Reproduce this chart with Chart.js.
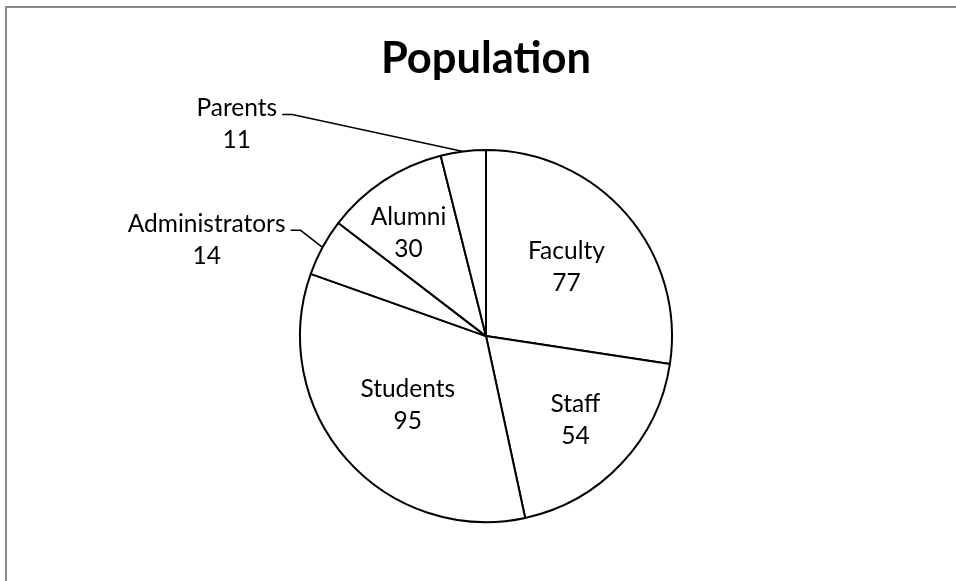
<!DOCTYPE html>
<html>
<head>
<meta charset="utf-8">
<title>Population</title>
<script src="https://cdn.jsdelivr.net/npm/chart.js@4"></script>
<style>
  html, body { margin: 0; padding: 0; background: #fff; }
  #wrap { width: 956px; height: 581px; position: relative; }
</style>
</head>
<body>
<div id="wrap"><canvas id="pop"></canvas></div>
<script>
const categories = ['Faculty', 'Staff', 'Students', 'Administrators', 'Alumni', 'Parents'];
const population = [77, 54, 95, 14, 30, 11];

// where each slice label sits: r = fraction of radius inside the slice
// (nx nudges it sideways), out = elbow of the leader line relative to the slice edge
const labelSpots = [
  { r: 0.57 },
  { r: 0.66 },
  { r: 0.56 },
  { out: [-22, -17] },
  { r: 0.66, nx: -10 },
  { out: [-171, -37] }
];

const FONT = 'Lato, "Noto Sans", sans-serif';

const frame = {
  id: 'frame',
  beforeDraw(chart) {
    const ctx = chart.ctx;
    ctx.save();
    ctx.strokeStyle = '#8a8a8a';
    ctx.lineWidth = 2;
    ctx.beginPath();
    ctx.moveTo(6, chart.height + 2);
    ctx.lineTo(6, 7);
    ctx.lineTo(chart.width + 2, 7);
    ctx.stroke();
    ctx.restore();
  }
};

const sliceLabels = {
  id: 'sliceLabels',
  afterDatasetsDraw(chart) {
    const ctx = chart.ctx;
    const meta = chart.getDatasetMeta(0);
    const values = chart.data.datasets[0].data;
    const lineGap = 32;
    ctx.save();
    ctx.font = '24.5px ' + FONT;
    ctx.fillStyle = '#000';
    ctx.textAlign = 'center';
    ctx.textBaseline = 'middle';
    meta.data.forEach((arc, i) => {
      const p = arc.getProps(['x', 'y', 'startAngle', 'endAngle', 'outerRadius'], true);
      const mid = (p.startAngle + p.endAngle) / 2;
      const spot = labelSpots[i];
      const name = chart.data.labels[i];
      const val = String(values[i]);
      if (spot.out) {
        const ex = p.x + Math.cos(mid) * p.outerRadius;
        const ey = p.y + Math.sin(mid) * p.outerRadius;
        const kx = ex + spot.out[0];
        const ky = ey + spot.out[1];
        const endX = kx - 10;
        ctx.strokeStyle = '#000';
        ctx.lineWidth = 1.5;
        ctx.beginPath();
        ctx.moveTo(ex, ey);
        ctx.lineTo(kx, ky);
        ctx.lineTo(endX, ky);
        ctx.stroke();
        const w = Math.max(ctx.measureText(name).width, ctx.measureText(val).width);
        const cx = endX - 5 - w / 2;
        ctx.fillText(name, cx, ky - 6);
        ctx.fillText(val, cx, ky - 6 + lineGap);
      } else {
        const d = p.outerRadius * spot.r;
        const cx = p.x + Math.cos(mid) * d + (spot.nx || 0);
        const cy = p.y + Math.sin(mid) * d;
        ctx.fillText(name, cx, cy - lineGap / 2);
        ctx.fillText(val, cx, cy + lineGap / 2);
      }
    });
    ctx.restore();
  }
};

new Chart(document.getElementById('pop'), {
  type: 'pie',
  data: {
    labels: categories,
    datasets: [{
      data: population,
      backgroundColor: '#ffffff',
      borderColor: '#000000',
      borderWidth: 2,
      radius: 186
    }]
  },
  options: {
    responsive: true,
    maintainAspectRatio: false,
    animation: false,
    events: [],
    layout: { padding: { left: 16, top: 0, right: 0, bottom: 0 } },
    plugins: {
      legend: { display: false },
      tooltip: { enabled: false },
      title: {
        display: true,
        text: 'Population',
        color: '#000',
        font: { family: FONT, size: 43.5, weight: 'bold', lineHeight: 1.2 },
        padding: { top: 33, bottom: 6 }
      }
    }
  },
  plugins: [frame, sliceLabels]
});
</script>
</body>
</html>
